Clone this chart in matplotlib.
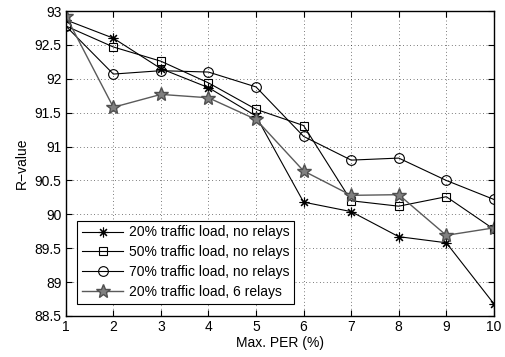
import matplotlib
matplotlib.use('Agg')
import matplotlib.pyplot as plt
import numpy as np

plt.rcParams['font.family'] = ['Liberation Sans', 'DejaVu Sans']

per = [1, 2, 3, 4, 5, 6, 7, 8, 9, 10]
load20 = [92.87, 92.60, 92.15, 91.87, 91.45, 90.18, 90.04, 89.67, 89.58, 88.68]
load50 = [92.78, 92.47, 92.26, 91.94, 91.55, 91.31, 90.20, 90.12, 90.26, 89.78]
load70 = [92.78, 92.07, 92.12, 92.10, 91.88, 91.15, 90.80, 90.83, 90.50, 90.22]
load20_relays = [92.93, 91.58, 91.77, 91.72, 91.40, 90.64, 90.28, 90.29, 89.69, 89.80]

labels = ['20% traffic load, no relays', '50% traffic load, no relays',
          '70% traffic load, no relays', '20% traffic load, 6 relays']

fig = plt.figure(figsize=(5.06, 3.57), dpi=100)
ax = fig.add_axes([0.130, 0.115, 0.846, 0.854])

# MATLAB-style asterisk: 8-spoke line marker
ax.plot(per, load20, color='black', marker=(8, 2, 0), markersize=7, lw=0.8,
        markeredgewidth=0.8, label=labels[0])
ax.plot(per, load50, color='black', marker='s', markersize=6, lw=0.8,
        markerfacecolor='none', markeredgewidth=0.8, label=labels[1])
ax.plot(per, load70, color='black', marker='o', markersize=7, lw=0.8,
        markerfacecolor='none', markeredgewidth=0.8, label=labels[2])
ax.plot(per, load20_relays, color='#5a5a5a', marker='*', markersize=10, lw=1.0,
        markerfacecolor='#808080', markeredgecolor='#505050', label=labels[3])

ax.set_xlim(1, 10)
ax.set_ylim(88.5, 93)
ax.set_xticks(range(1, 11))
ax.set_yticks(np.arange(88.5, 93.01, 0.5))
ax.set_yticklabels(['88.5', '89', '89.5', '90', '90.5', '91', '91.5', '92', '92.5', '93'])
ax.grid(True, color='black', linestyle=(0, (1, 4)), linewidth=0.5)
ax.tick_params(direction='in', top=True, right=True, labelsize=10, length=4, pad=3)
for s in ax.spines.values():
    s.set_linewidth(1.0)

ax.set_xlabel('Max. PER (%)', fontsize=10, labelpad=1)
ax.set_ylabel('R\u2212value', fontsize=10, labelpad=4)

leg = ax.legend(loc='lower left', bbox_to_anchor=(0.026, 0.04), fontsize=10,
                fancybox=False, edgecolor='black', framealpha=1,
                handlelength=3.0, borderpad=0.35, labelspacing=0.42,
                handletextpad=0.4, borderaxespad=0.0)
leg.get_frame().set_linewidth(0.8)

fig.savefig('out.png', dpi=100)
